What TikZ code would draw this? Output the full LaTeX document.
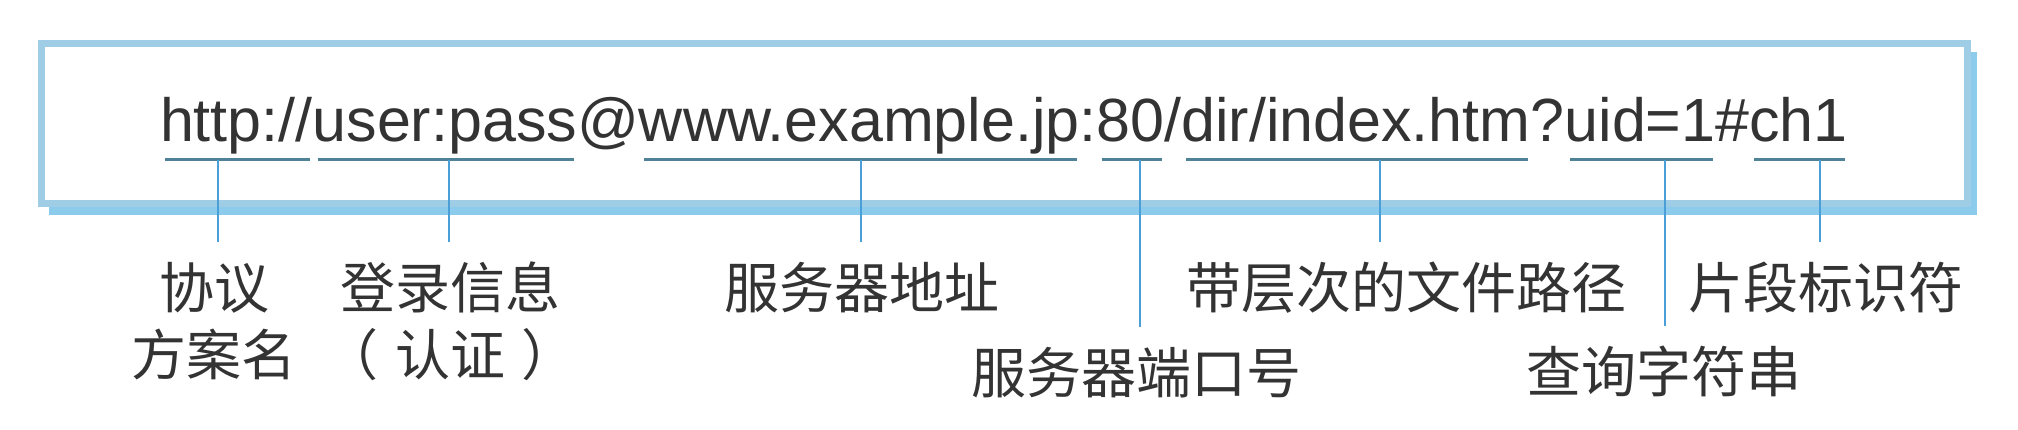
\documentclass[tikz,border=0pt]{standalone}
\usepackage{fontspec}
\setmainfont{Liberation Sans}
\newfontfamily\cjk{Noto Sans CJK SC}
\usetikzlibrary{calc}
\definecolor{frameblue}{HTML}{9FCDE6}
\definecolor{shadowblue}{HTML}{8CCBEC}
\definecolor{ulcol}{HTML}{4F8299}
\definecolor{vcol}{HTML}{4A9FD8}
\definecolor{txt}{HTML}{333333}
\begin{document}
\begin{tikzpicture}[x=1pt,y=-1pt,
  seg/.style={anchor=base west, inner sep=0pt, outer sep=0pt, text=txt, font=\fontsize{61}{61}\selectfont},
  lab/.style={anchor=north, inner sep=0pt, outer sep=0pt, align=center, text=txt, font=\cjk\fontsize{55}{67}\selectfont},
  uline/.style={draw=ulcol, line width=3pt},
  vline/.style={draw=vcol, line width=2.5pt},
]
\fill[white] (0,0) rectangle (2018,430);
\useasboundingbox (0,0) rectangle (2018,430);
% frame with shadow
\fill[shadowblue] (49,52) rectangle (1977,215);
\draw[frameblue, line width=7pt, fill=white] (41,43.5) rectangle (1967.5,203.5);
% URL segments
\node[seg] (s1) at (160,142) {http://};
\node[seg] (s2) at (s1.base east) {user:pass};
\node[seg] (s3) at (s2.base east) {@};
\node[seg] (s4) at (s3.base east) {www.example.jp};
\node[seg] (s5) at (s4.base east) {:};
\node[seg] (s6) at (s5.base east) {80};
\node[seg] (s7) at (s6.base east) {/};
\node[seg] (s8) at (s7.base east) {dir/index.htm};
\node[seg] (s9) at (s8.base east) {?};
\node[seg] (s10) at (s9.base east) {uid=1};
\node[seg] (s11) at (s10.base east) {\#};
\node[seg] (s12) at (s11.base east) {ch1};
% underlines
\foreach \s in {s1,s2,s4,s6,s8,s10,s12}{
  \draw[uline] ($(\s.base west)+(5,18)$) -- ($(\s.base east)+(-3,18)$);
}
% labels
\node[lab] (l1) at (214,262) {协议\\方案名};
\node[lab] (l2) at (450,262) {登录信息\\（\hspace{0.3em}认证\hspace{0.3em}）};
\node[lab] (l3) at (862,262) {服务器地址};
\node[lab] (l4) at (1136,347) {服务器端口号};
\node[lab] (l5) at (1406,262) {带层次的文件路径};
\node[lab] (l6) at (1664,346) {查询字符串};
\node[lab] (l7) at (1826,262) {片段标识符};
% connectors
\coordinate (v1) at (218,160);
\coordinate (v2) at (449,160);
\coordinate (v3) at (861,160);
\coordinate (v4) at (1140,160);
\coordinate (v5) at (1380,160);
\coordinate (v6) at (1665,160);
\coordinate (v7) at (1820,160);
\foreach \v/\l in {v1/l1,v2/l2,v3/l3,v4/l4,v5/l5,v6/l6,v7/l7}{
  \draw[vline] (\v) -- ($(\v |- \l.north)+(0,-20)$);
}
\end{tikzpicture}
\end{document}
